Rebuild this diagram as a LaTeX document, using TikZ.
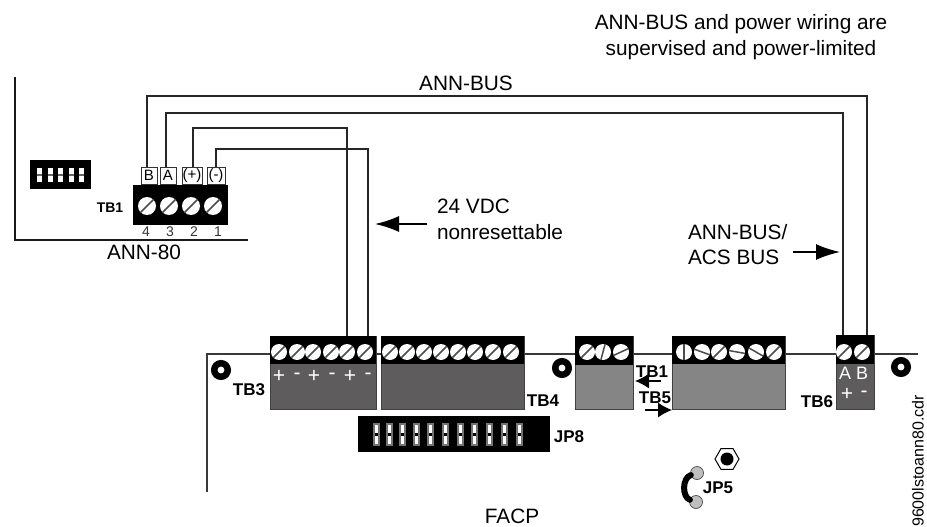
\documentclass[tikz,border=0pt]{standalone}
\usepackage{fontspec}
\setmainfont{Liberation Sans}
\usetikzlibrary{arrows.meta,shapes.geometric}
\definecolor{termdark}{HTML}{5E5C5C}
\definecolor{termlight}{HTML}{858585}
\definecolor{boardline}{HTML}{3A3838}
\tikzset{
  every node/.style={inner sep=0pt,outer sep=0pt},
  txt/.style={font=\fontsize{20.8}{25.5}\selectfont,align=center},
  txtleft/.style={font=\fontsize{20.8}{25.5}\selectfont,align=left,anchor=west},
  tag/.style={font=\fontsize{17}{20}\bfseries\selectfont},
  pinnum/.style={font=\fontsize{14}{16}\selectfont,text=black!80},
  pinsign/.style={font=\fontsize{21}{22}\selectfont,text=white},
  pinbox/.style={draw=black!80,line width=.9pt,fill=white,minimum height=17pt,font=\fontsize{15}{16}\selectfont},
  darkblock/.style={fill=black,anchor=north west,minimum height=#1},
  greyblock/.style={draw=black!75,line width=1pt,anchor=north west,minimum height=#1},
  screwhead/.style={circle,fill=white,minimum size=#1},
  slot/.style={line width=1.5pt,black!70,line cap=butt},
  board/.style={boardline,line width=1.2pt},
  wire/.style={line width=1.2pt,black!85},
  frame/.style={line width=2.6pt,black!90},
  bigarrow/.style={-{Latex[length=24pt,width=16pt]},line width=1.7pt},
  midarrow/.style={-{Latex[length=14pt,width=15pt]},line width=1.1pt},
  mounthole/.style={circle,draw=black,line width=6.5pt,fill=white,minimum size=13.5pt},
  linkpin/.style={circle,draw=black!70,line width=.7pt,fill=black!25,minimum size=13pt},
}
\newcommand{\screwrow}[4][16pt]{% size, name, y, list of x/angle
  \foreach \sx/\sa [count=\si] in {#4} {
    \node[screwhead=#1] (#2-\si) at (\sx,#3) {};
    \draw[slot] (#2-\si.\sa) -- (#2-\si.\sa+180);
  }
}
\begin{document}
\begin{tikzpicture}[x=1pt,y=-1pt]
  \useasboundingbox (0,0) rectangle (927,527);

  % board of the FACP, behind the terminal blocks
  \coordinate (boardbl) at (207,492);
  \coordinate (boardtl) at (207,354);
  \coordinate (boardtr) at (918,354);
  \draw[board] (boardbl) -- (boardtl) -- (boardtr);

  % ANN-80
  \coordinate (annt) at (15,77);
  \coordinate (annc) at (15,240);
  \coordinate (annr) at (248,240);
  \draw[frame] (annt) -- (annc) -- (annr);
  \node[fill=black,minimum width=61pt,minimum height=29pt,anchor=north west] (dip) at (30,160) {};
  \foreach \dx in {39,50,60,71,81} {
    \fill[white] (\dx-2.5,168) rectangle (\dx+2.5,182);
    \fill[black!60] (\dx-2.5,174) rectangle (\dx+2.5,175.5);
  }
  \node[darkblock=40pt,minimum width=95pt] (tbann) at (133,185) {};
  \screwrow[18pt]{sa}{206}{147/225,169/225,191/225,213/225}
  \node[tag,font=\fontsize{14}{16}\bfseries\selectfont] (tbannlbl) at (110,208) {TB1};
  \node[pinbox,minimum width=16pt] (lblb) at (149,175.5) {B};
  \node[pinbox,minimum width=16pt] (lbla) at (168,175.5) {A};
  \node[pinbox,minimum width=20pt] (lblp) at (192,175.5) {(+)};
  \node[pinbox,minimum width=18pt] (lblm) at (216,175.5) {(-)};
  \node[pinnum] (num4) at (146,232) {4};
  \node[pinnum] (num3) at (170,232) {3};
  \node[pinnum] (num2) at (194,232) {2};
  \node[pinnum] (num1) at (218,232) {1};
  \node[txt] (annlbl) at (144,252) {ANN-80};

  % left hand terminal blocks
  \node[greyblock=73pt,fill=termdark,minimum width=106pt] (tbthree) at (270,336) {};
  \node[darkblock=28pt,minimum width=106pt] at (270,336) {};
  \screwrow{sb}{352}{279/225,297/225,313/225,331/225,347/225,365/225}
  \foreach \lx/\ls in {279/+,297/-,314/+,332/-,350/+,368/-}
    \node[pinsign] at (\lx,376) {\ls};
  \node[greyblock=73pt,fill=termdark,minimum width=143pt] (tbfour) at (381,336) {};
  \node[darkblock=28pt,minimum width=143pt] at (381,336) {};
  \screwrow{sc}{352}{390/225,407/225,424/225,441/225,458/225,475/225,493/225,511/225}
  \node[mounthole] (holea) at (221,370) {};
  \node[tag] (tbthreelbl) at (249,390) {TB3};
  \node[tag] (tbfourlbl) at (543,401) {TB4};

  % JP8
  \node[fill=black,anchor=north west,minimum width=192pt,minimum height=36pt] (jpeight) at (358,416) {};
  \foreach \jx in {376,389,402,416,430,445,460,474,489,504,519} {
    \fill[black!55] (\jx-3.5,423) rectangle (\jx+3.5,446);
    \fill[white] (\jx-1.5,425) rectangle (\jx+1.5,444);
    \fill[black] (\jx-1.5,433) rectangle (\jx+1.5,436);
  }
  \node[tag] (jpeightlbl) at (569,437) {JP8};

  % middle terminal blocks
  \node[mounthole] (holeb) at (562,368) {};
  \node[greyblock=73pt,fill=termlight,minimum width=58pt] (tbone) at (575,336) {};
  \node[darkblock=29pt,minimum width=58pt] at (575,336) {};
  \screwrow{sd}{352}{587/225,603/255,621/205}
  \node[greyblock=73pt,fill=termlight,minimum width=113pt] (tbfive) at (672,336) {};
  \node[darkblock=28pt,minimum width=113pt] at (672,336) {};
  \screwrow{se}{352}{684/270,702/160,719/225,737/170,756/150,774/225}
  \node[tag] (tbonelbl) at (652,372) {TB1};
  \node[tag] (tbfivelbl) at (655,398) {TB5};
  \coordinate (tbonetail) at (661,381);
  \coordinate (tbonehead) at (635,381);
  \coordinate (tbfivetail) at (645,410);
  \coordinate (tbfivehead) at (672,410);
  \draw[midarrow] (tbonetail) -- (tbonehead);
  \draw[midarrow] (tbfivetail) -- (tbfivehead);

  % TB6
  \node[greyblock=74pt,fill=termdark,minimum width=38pt] (tbsix) at (836,335) {};
  \node[darkblock=29pt,minimum width=38pt] at (836,335) {};
  \screwrow{sf}{352}{844/225,862/225}
  \node[pinsign,font=\fontsize{18}{20}\selectfont] at (845,373) {A};
  \node[pinsign,font=\fontsize{18}{20}\selectfont] at (862,373) {B};
  \node[pinsign] at (847,394) {+};
  \node[pinsign] at (864,394) {-};
  \node[tag] (tbsixlbl) at (817,402) {TB6};
  \node[mounthole] (holec) at (901,367) {};

  % JP5
  \node[regular polygon,regular polygon sides=6,draw=black,line width=1pt,fill=white,minimum size=24pt] (hexnut) at (727,459) {};
  \node[circle,fill=black,minimum size=13pt] at (hexnut) {};
  \node[linkpin] (pina) at (697,473) {};
  \node[linkpin] (pinb) at (696,502) {};
  \draw[line width=6pt,line cap=round] (pina) .. controls (682,478) and (682,497) .. (pinb);
  \node[tag] (jpfivelbl) at (718,488) {JP5};

  % wiring
  \coordinate (cornerb) at (867,96);
  \coordinate (cornera) at (843,113);
  \coordinate (cornerp) at (347,128);
  \coordinate (cornerm) at (368,149);
  \draw[wire] (lblb.north -| 147,0) |- (cornerb) -- (cornerb |- tbsix.north);
  \draw[wire] (lbla.north -| 166,0) |- (cornera) -- (cornera |- tbsix.north);
  \draw[wire] (lblp.north -| 193,0) |- (cornerp) -- (cornerp |- tbthree.north);
  \draw[wire] (lblm.north) |- (cornerm) -- (cornerm |- tbthree.north);

  % notes
  \node[txt] (note) at (741,37) {ANN-BUS and power wiring are\\supervised and power-limited};
  \node[txt] (annbus) at (466,83) {ANN-BUS};
  \node[txtleft] (vdc) at (437,219.5) {24 VDC\\nonresettable};
  \node[txtleft] (acsbus) at (688,244.5) {ANN-BUS/\\ACS BUS};
  \node[txt] (facp) at (512,516.5) {FACP};
  \node[font=\fontsize{16}{18}\selectfont,rotate=90] (filename) at (918,461) {9600lstoann80.cdr};
  \coordinate (vdctail) at (427,224);
  \coordinate (vdchead) at (375,224);
  \coordinate (acstail) at (793,252);
  \coordinate (acshead) at (840,252);
  \draw[bigarrow] (vdctail) -- (vdchead);
  \draw[bigarrow] (acstail) -- (acshead);
\end{tikzpicture}
\end{document}
